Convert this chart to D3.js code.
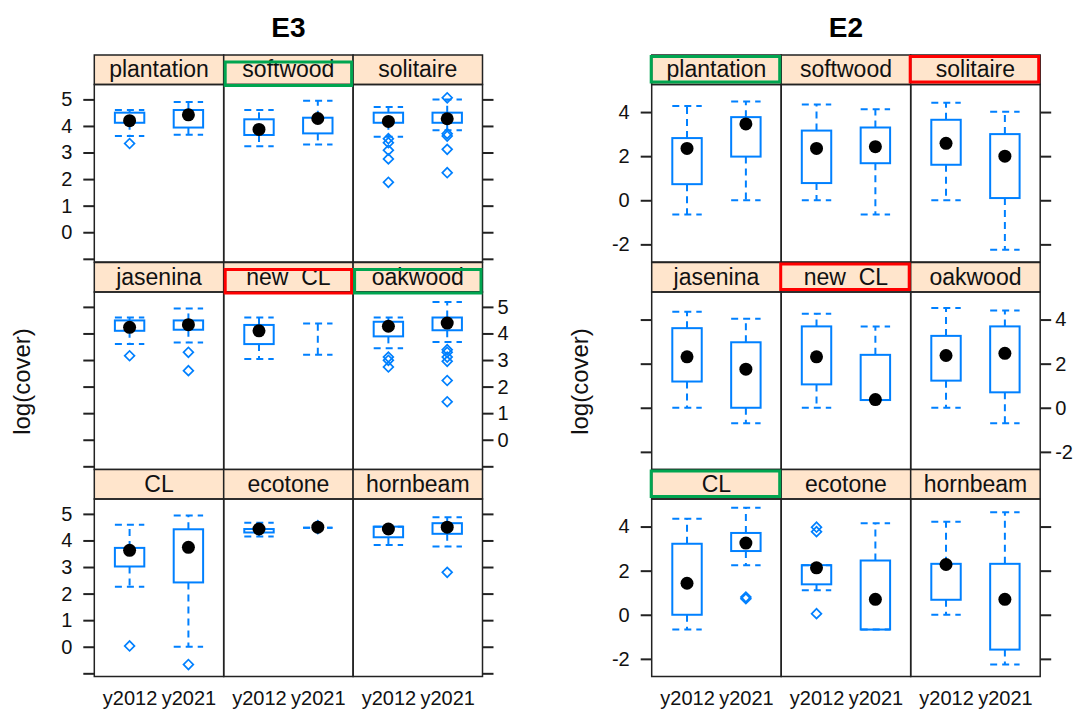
<!DOCTYPE html>
<html><head><meta charset="utf-8">
<script src="https://cdn.jsdelivr.net/npm/d3@7"></script>
<style>
body{margin:0;background:#fff;}
svg{display:block;font-family:"Liberation Sans",Arial,sans-serif;}
</style></head><body>
<svg id="chart" width="1083" height="711"></svg>
<script>
// ---------- data ----------
const panels = ["plantation","softwood","solitaire","jasenina","new  CL","oakwood","CL","ecotone","hornbeam"];
const years = ["y2012","y2021"];

// E3: index = 2*panel + year
const e3Min = [3.62,3.67, 3.24,3.30, 3.59,3.84, 3.60,3.66, 3.04,3.20, 3.44,3.68, 2.26,0.00, 4.15,4.48, 3.83,3.77];
const e3Q1  = [4.12,3.94, 3.66,3.72, 4.12,4.12, 4.10,4.14, 3.60,3.20, 3.89,4.12, 3.02,2.42, 4.30,4.48, 4.12,4.25];
const e3Med = [4.20,4.42, 3.87,4.28, 4.17,4.27, 4.23,4.33, 4.10,null, 4.27,4.39, 3.63,3.74, 4.43,4.50, 4.43,4.50];
const e3Q3  = [4.50,4.60, 4.25,4.31, 4.50,4.50, 4.49,4.49, 4.32,3.20, 4.44,4.60, 3.72,4.42, 4.43,4.48, 4.52,4.65];
const e3Max = [4.60,4.90, 4.60,4.95, 4.71,5.00, 4.60,4.94, 4.60,4.37, 4.60,5.18, 4.59,4.94, 4.67,4.48, 4.52,4.87];
const e3Outliers = [
  [3.34], [],
  [], [],
  [3.52,3.37,3.09,2.76,1.88], [5.06,3.71,3.62,3.12,2.24],
  [3.16], [3.29,2.60],
  [], [],
  [3.11,2.99,2.74], [3.39,3.29,3.11,2.95,2.23,1.43],
  [0.03], [-0.67],
  [], [4.56,4.44],
  [], [2.80]
];
const e3Ticks = [-1,0,1,2,3,4,5];
const e3TickLabels = ["","0","1","2","3","4","5"];
const e3Highlights = [["softwood","green"],["new  CL","red"],["oakwood","green"]];

// E2
const e2Min = [-0.65,0.00, 0.00,-0.65, 0.00,-2.25, 0.00,-0.70, 0.00,0.35, 0.00,-0.70, -0.67,2.25, 1.11,-0.67, 0.00,-2.26];
const e2Q1  = [0.73,1.98, 0.78,1.68, 1.61,0.10, 1.19,0.00, 1.06,0.35, 1.23,0.70, 0.00,2.89, 1.38,-0.67, 0.68,-1.58];
const e2Med = [2.35,3.46, 2.35,2.43, 2.58,2.00, 2.31,1.75, 2.31,0.37, 2.37,2.47, 1.43,3.25, 2.13,0.70, 2.28,0.70];
const e2Q3  = [2.82,3.77, 3.16,3.30, 3.65,3.00, 3.61,2.97, 3.69,2.40, 3.26,3.69, 3.22,3.71, 2.25,2.46, 2.31,2.31];
const e2Max = [4.27,4.48, 4.34,4.13, 4.42,4.01, 4.35,4.04, 4.26,3.69, 4.53,4.41, 4.35,4.85, 2.25,4.15, 4.22,4.65];
const e2Outliers = [
  [], [],
  [], [],
  [], [],
  [], [],
  [], [],
  [], [],
  [], [0.80,0.73],
  [3.97,3.77,0.05], [],
  [], []
];
const e2Ticks = [-2,0,2,4];
const e2TickLabels = ["-2","0","2","4"];
const e2Highlights = [["plantation","green"],["solitaire","red"],["new  CL","red"],["CL","green"]];

// ---------- drawing ----------
const svg = d3.select("#chart");
const BLUE = "#0080ff", STRIP = "#ffe5cc";
const HL = {green:"#00a550", red:"#ff0000"};
const rowTops = [55, 262.5, 469.5];
const stripH = 29.5, panelH = 177.5;

function drawChart(cfg){
  const g = svg.append("g");
  const colW = cfg.colW, x0 = cfg.x0, xR = x0 + 3*colW;

  // title
  g.append("text").attr("x", x0 + 1.5*colW).attr("y", 36.5)
    .attr("text-anchor","middle").attr("font-size",28).attr("font-weight","bold")
    .text(cfg.title);
  // y label
  g.append("text").attr("transform", `translate(${x0-64},381.5) rotate(-90)`)
    .attr("text-anchor","middle").attr("font-size",24).attr("fill","#111").text("log(cover)");

  const yScales = rowTops.map(t => d3.scaleLinear().domain(cfg.yDomain)
      .range([t + stripH + panelH, t + stripH]));

  // axes per row
  rowTops.forEach((t, r) => {
    const y = yScales[r];
    const fmtL = r === 1 ? () => "" : (d => cfg.tickLabels[cfg.ticks.indexOf(d)]);
    const fmtR = r === 1 ? (d => cfg.tickLabels[cfg.ticks.indexOf(d)]) : () => "";
    const aL = g.append("g").attr("transform",`translate(${x0},0)`)
      .call(d3.axisLeft(y).tickValues(cfg.ticks).tickSize(11).tickPadding(11).tickFormat(fmtL));
    const aR = g.append("g").attr("transform",`translate(${xR},0)`)
      .call(d3.axisRight(y).tickValues(cfg.ticks).tickSize(11).tickPadding(4).tickFormat(fmtR));
    [aL, aR].forEach(a => {
      a.select(".domain").remove();
      a.selectAll(".tick line").attr("stroke","#222").attr("stroke-width",2);
      a.selectAll(".tick text").attr("font-size",20).attr("fill","#111")
        .attr("font-family",'"Liberation Sans",Arial,sans-serif');
    });
  });

  panels.forEach((name, i) => {
    const col = i % 3, row = Math.floor(i / 3);
    const px = x0 + col*colW, top = rowTops[row];
    const y = yScales[row];
    const xs = d3.scalePoint().domain(years).range([px, px + colW]).padding(0.6);
    const bw = xs.step() * 0.5;

    // strip
    g.append("rect").attr("x",px).attr("y",top).attr("width",colW).attr("height",stripH)
      .attr("fill",STRIP).attr("stroke","#222").attr("stroke-width",1.5);
    g.append("text").attr("x",px + colW/2).attr("y",top + stripH/2).attr("dy","0.33em")
      .attr("text-anchor","middle").attr("font-size",23).attr("fill","#111")
      .style("white-space","pre").text(name);
    // panel border
    g.append("rect").attr("x",px).attr("y",top+stripH).attr("width",colW).attr("height",panelH)
      .attr("fill","none").attr("stroke","#222").attr("stroke-width",1.5);

    years.forEach((yr, j) => {
      const k = 2*i + j;
      const cx = xs(yr);
      const mn = cfg.min[k], q1 = cfg.q1[k], md = cfg.med[k], q3 = cfg.q3[k], mx = cfg.max[k];
      const dash = "7,5";
      // whiskers
      g.append("line").attr("x1",cx).attr("x2",cx).attr("y1",y(q3)).attr("y2",y(mx))
        .attr("stroke",BLUE).attr("stroke-width",2).attr("stroke-dasharray",dash);
      g.append("line").attr("x1",cx).attr("x2",cx).attr("y1",y(q1)).attr("y2",y(mn))
        .attr("stroke",BLUE).attr("stroke-width",2).attr("stroke-dasharray",dash);
      [mn, mx].forEach(v => {
        g.append("line").attr("x1",cx-bw/2).attr("x2",cx+bw/2).attr("y1",y(v)).attr("y2",y(v))
          .attr("stroke",BLUE).attr("stroke-width",2).attr("stroke-dasharray",dash);
      });
      // box
      g.append("rect").attr("x",cx-bw/2).attr("y",y(q3)).attr("width",bw)
        .attr("height",Math.max(0, y(q1)-y(q3)))
        .attr("fill","none").attr("stroke",BLUE).attr("stroke-width",2);
      // outliers
      cfg.out[k].forEach(v => {
        g.append("path").attr("d", d3.symbol(d3.symbolSquare, 48)())
          .attr("transform",`translate(${cx},${y(v)}) rotate(45)`)
          .attr("fill","none").attr("stroke",BLUE).attr("stroke-width",1.7);
      });
      // median dot
      if (md !== null) {
        g.append("circle").attr("cx",cx).attr("cy",y(md)).attr("r",6.5).attr("fill","#000");
      }
    });

    // bottom labels
    if (row === 2) {
      const ax = g.append("g").attr("transform",`translate(0,${top+stripH+panelH})`)
        .call(d3.axisBottom(xs).tickSize(0).tickPadding(14));
      ax.select(".domain").remove();
      ax.selectAll(".tick text").attr("font-size",20).attr("fill","#111")
        .attr("font-family",'"Liberation Sans",Arial,sans-serif');
    }
  });

  // highlight boxes
  cfg.highlights.forEach(([name, c]) => {
    const i = panels.indexOf(name);
    const col = i % 3, row = Math.floor(i / 3);
    const px = x0 + col*colW, top = rowTops[row];
    const o = cfg.hlOff;
    g.append("rect")
      .attr("x", px + o.dx + 1.5).attr("y", top + o.dy + 1.5)
      .attr("width", colW + o.dw - 3).attr("height", stripH + o.dh - 3)
      .attr("fill","none").attr("stroke",HL[c]).attr("stroke-width",3);
  });
}

drawChart({title:"E3", x0:94.3, colW:129.4, yDomain:[-1.12,5.56],
  min:e3Min, q1:e3Q1, med:e3Med, q3:e3Q3, max:e3Max, out:e3Outliers,
  ticks:e3Ticks, tickLabels:e3TickLabels, highlights:e3Highlights,
  hlOff:{dx:0, dy:5.5, dw:0, dh:-3}});
drawChart({title:"E2", x0:651.7, colW:129.5, yDomain:[-2.8,5.25],
  min:e2Min, q1:e2Q1, med:e2Med, q3:e2Q3, max:e2Max, out:e2Outliers,
  ticks:e2Ticks, tickLabels:e2TickLabels, highlights:e2Highlights,
  hlOff:{dx:-2, dy:0, dw:2, dh:-1}});
</script>
</body></html>
